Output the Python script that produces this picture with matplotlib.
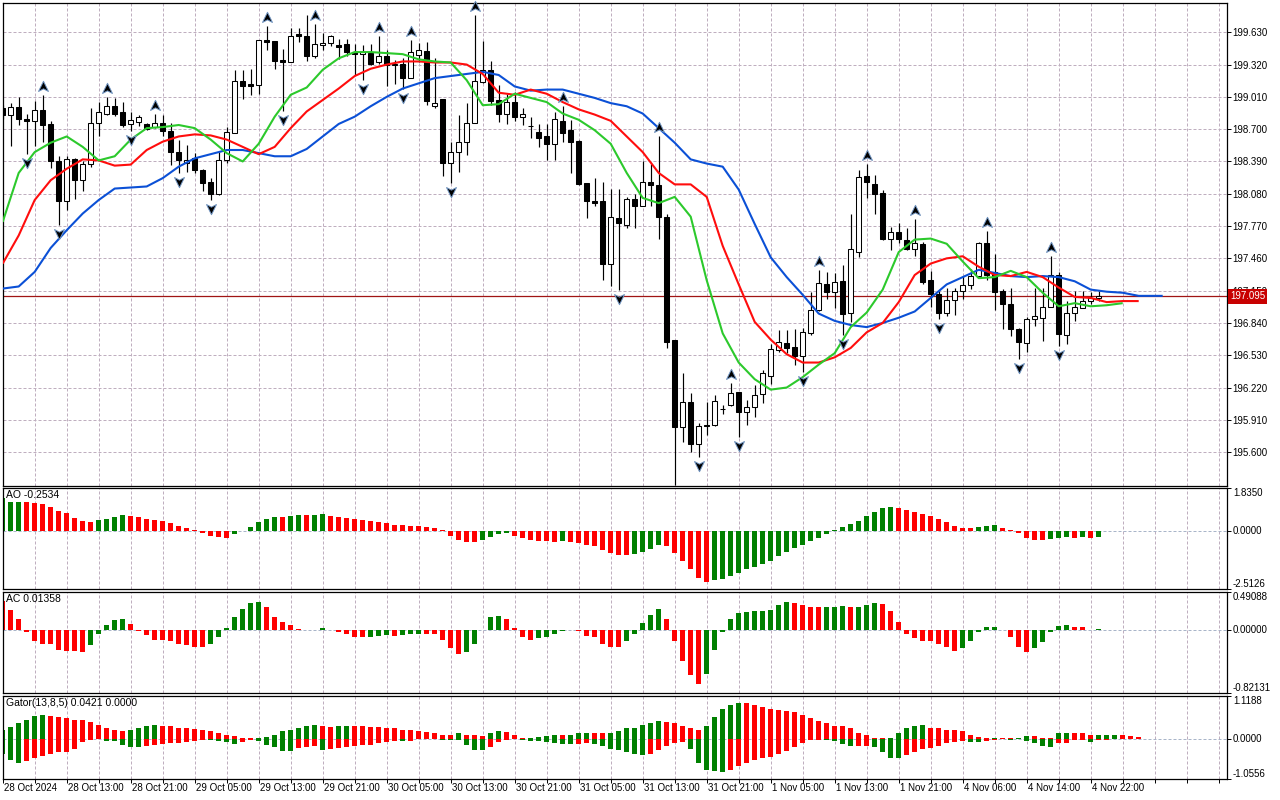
import numpy as np
import matplotlib
matplotlib.use("Agg")
import matplotlib.pyplot as plt
from matplotlib.path import Path
from matplotlib.transforms import offset_copy

plt.rcParams['font.family'] = ['Liberation Sans', 'DejaVu Sans']
plt.rcParams['font.size'] = 7

# ---------------- data ----------------
time_labels = ["28 Oct 2024", "28 Oct 13:00", "28 Oct 21:00", "29 Oct 05:00", "29 Oct 13:00",
               "29 Oct 21:00", "30 Oct 05:00", "30 Oct 13:00", "30 Oct 21:00", "31 Oct 05:00",
               "31 Oct 13:00", "31 Oct 21:00", "1 Nov 05:00", "1 Nov 13:00", "1 Nov 21:00",
               "4 Nov 06:00", "4 Nov 14:00", "4 Nov 22:00"]

opens = [198.90,198.84,198.91,198.80,198.78,198.88,198.75,198.39,198.01,198.41,
         198.21,198.37,198.76,198.85,198.92,198.86,198.75,198.77,198.75,198.72,
         198.76,198.68,198.48,198.38,198.42,198.31,198.19,198.08,198.40,198.66,
         199.16,199.13,199.12,199.56,199.55,199.36,199.34,199.61,199.59,199.40,
         199.51,199.53,199.51,199.52,199.44,199.42,199.43,199.34,199.40,199.32,
         199.33,199.19,199.41,199.45,198.92,198.99,198.38,198.48,198.58,198.76,
         199.15,199.27,198.98,198.85,198.96,198.82,198.73,198.67,198.63,198.56,
         198.78,198.69,198.59,198.18,198.01,198.01,197.41,197.85,197.78,198.03,
         197.96,198.19,198.16,197.86,196.68,195.84,196.08,195.68,195.86,195.86,
         196.01,196.05,196.18,195.99,196.03,196.16,196.33,196.58,196.65,196.61,
         196.52,196.74,196.96,197.21,197.14,197.24,196.94,197.52,198.25,198.17,
         198.09,197.65,197.71,197.64,197.55,197.60,197.25,197.12,196.94,197.06,
         197.15,197.20,197.29,197.61,197.33,197.15,197.02,196.78,196.65,196.88,
         196.89,196.99,197.30,196.72,196.94,196.98,197.05,197.08]
highs = [198.93,198.95,199.01,198.85,198.97,199.03,198.78,198.44,198.44,198.42,
         198.39,198.90,198.96,199.01,199.00,198.96,198.86,198.84,198.76,198.85,
         198.84,198.76,198.60,198.55,198.47,198.32,198.23,198.48,198.72,199.27,
         199.27,199.28,199.56,199.69,199.55,199.47,199.67,199.67,199.80,199.71,
         199.62,199.60,199.57,199.57,199.52,199.51,199.52,199.59,199.46,199.36,
         199.38,199.56,199.53,199.54,199.38,198.99,198.58,198.84,198.95,199.80,
         199.55,199.35,199.12,199.04,199.06,198.90,198.82,198.75,198.75,198.86,
         198.92,198.79,198.60,198.18,198.23,198.19,198.13,198.13,198.05,198.08,
         198.39,198.37,198.63,197.89,196.68,196.36,196.17,195.88,196.08,196.15,
         196.05,196.26,196.18,196.10,196.24,196.39,196.64,196.77,196.77,196.78,
         196.79,197.14,197.35,197.33,197.32,197.40,197.89,198.31,198.37,198.26,
         198.12,197.76,197.80,197.75,197.84,197.62,197.34,197.15,197.18,197.18,
         197.29,197.36,197.62,197.72,197.50,197.17,197.18,196.79,196.90,197.18,
         197.18,197.48,197.33,197.05,197.15,197.15,197.14,197.15]
lows = [198.80,198.54,198.74,198.46,198.54,198.58,198.33,197.78,197.92,198.03,
        198.11,198.34,198.63,198.84,198.83,198.72,198.68,198.73,198.69,198.71,
        198.63,198.36,198.28,198.29,198.28,198.11,198.02,198.07,198.38,198.66,
        198.99,199.03,199.04,199.46,199.28,198.87,199.34,199.54,199.35,199.38,
        199.46,199.50,199.37,199.40,199.22,199.17,199.32,199.33,199.11,199.13,
        199.09,199.19,199.34,198.93,198.90,198.25,198.18,198.29,198.45,198.76,
        199.14,198.93,198.77,198.75,198.78,198.74,198.62,198.53,198.40,198.40,
        198.58,198.28,198.16,197.85,197.96,197.25,197.19,197.16,197.75,197.75,
        197.96,197.96,197.65,196.60,195.28,195.70,195.60,195.55,195.76,195.85,
        195.97,196.04,195.75,195.86,195.94,196.07,196.25,196.56,196.55,196.44,
        196.37,196.72,196.95,197.07,196.98,196.72,196.85,197.47,198.04,197.89,
        197.64,197.54,197.61,197.54,197.48,197.21,196.99,196.88,196.91,196.92,
        197.07,197.17,197.29,197.25,196.96,196.78,196.71,196.49,196.56,196.81,
        196.67,196.99,196.62,196.64,196.86,196.98,197.02,197.05]
closes = [198.84,198.91,198.80,198.78,198.88,198.74,198.39,198.01,198.41,198.21,
          198.37,198.76,198.86,198.92,198.85,198.74,198.79,198.82,198.70,198.76,
          198.68,198.48,198.40,198.40,198.31,198.18,198.08,198.40,198.67,199.16,
          199.11,199.11,199.56,199.54,199.35,199.34,199.59,199.59,199.40,199.52,
          199.53,199.59,199.49,199.44,199.42,199.44,199.33,199.40,199.32,199.33,
          199.19,199.44,199.46,198.97,198.95,198.38,198.48,198.58,198.76,199.16,
          199.27,198.97,198.85,198.96,198.82,198.85,198.73,198.62,198.56,198.80,
          198.66,198.58,198.17,198.01,197.99,197.41,197.86,197.80,198.03,197.96,
          198.19,198.16,197.86,196.66,195.84,196.08,195.68,195.85,195.85,196.09,
          196.01,196.17,195.99,196.03,196.15,196.36,196.59,196.66,196.60,196.52,
          196.75,196.96,197.22,197.14,197.23,196.93,197.55,198.24,198.19,198.08,
          197.65,197.71,197.65,197.55,197.61,197.23,197.12,196.94,197.06,197.15,
          197.20,197.29,197.61,197.30,197.14,197.02,196.78,196.66,196.88,196.91,
          196.99,197.30,196.73,196.94,196.99,197.05,197.08,197.095]

last_price = 197.095
price_ticks = [199.630, 199.320, 199.010, 198.700, 198.390, 198.080, 197.770,
               197.460, 197.150, 196.840, 196.530, 196.220, 195.910, 195.600]
price_range = (195.275, 199.911)

# Alligator lines (sampled every second bar, already shifted)
lips_bars = list(range(0, 141, 2))
lips_vals = [197.81,198.28,198.48,198.57,198.63,198.53,198.40,198.44,198.60,198.71,
             198.72,198.74,198.71,198.60,198.47,198.39,198.56,198.82,199.03,199.10,
             199.27,199.38,199.44,199.44,199.43,199.42,199.37,199.35,199.34,199.17,
             198.93,198.94,199.04,199.00,198.96,198.85,198.79,198.69,198.56,198.28,
             198.04,197.99,198.05,197.86,197.25,196.74,196.46,196.30,196.20,196.22,
             196.32,196.44,196.55,196.80,196.94,197.16,197.52,197.64,197.65,197.60,
             197.43,197.27,197.28,197.34,197.28,197.13,197.00,197.03,197.00,197.01,
             197.03]
teeth_bars = list(range(0, 143, 2))
teeth_vals = [197.41,197.68,198.02,198.21,198.32,198.41,198.40,198.35,198.36,198.50,
              198.58,198.63,198.65,198.64,198.60,198.53,198.46,198.53,198.71,198.87,
              198.98,199.09,199.21,199.28,199.32,199.35,199.35,199.34,199.34,199.32,
              199.23,199.05,199.03,199.08,199.04,198.96,198.89,198.84,198.78,198.63,
              198.48,198.28,198.17,198.17,198.05,197.58,197.21,196.85,196.68,196.54,
              196.46,196.46,196.51,196.60,196.75,196.84,197.04,197.30,197.41,197.46,
              197.48,197.38,197.30,197.29,197.33,197.28,197.18,197.09,197.08,197.04,
              197.05,197.05]
jaw_bars = list(range(0, 145, 2)) + [145]
jaw_vals = [197.17,197.19,197.33,197.56,197.73,197.89,198.02,198.13,198.14,198.15,
            198.23,198.34,198.42,198.46,198.50,198.50,198.47,198.44,198.44,198.51,
            198.63,198.75,198.82,198.92,199.01,199.09,199.14,199.19,199.21,199.23,
            199.25,199.22,199.11,199.07,199.08,199.08,199.04,199.00,198.95,198.92,
            198.85,198.71,198.57,198.41,198.37,198.34,198.12,197.79,197.47,197.28,
            197.11,196.93,196.86,196.82,196.80,196.84,196.89,196.95,197.08,197.21,
            197.28,197.35,197.32,197.29,197.28,197.29,197.28,197.24,197.16,197.14,
            197.13,197.10,197.10,197.10]

frac_up = [5, 13, 19, 33, 39, 47, 51, 59, 70, 82, 91, 102, 108, 114, 123, 131]
frac_dn = [3, 7, 16, 22, 26, 35, 45, 50, 56, 77, 84, 87, 92, 100, 105, 117, 127, 132]

# Awesome Oscillator
ao_vals = [1.39,1.22,1.23,1.22,1.20,1.13,1.03,0.86,0.75,0.56,
           0.43,0.39,0.47,0.52,0.60,0.69,0.65,0.57,0.52,0.47,
           0.40,0.34,0.22,0.13,0.02,-0.11,-0.22,-0.29,-0.30,-0.16,
           -0.03,0.14,0.36,0.52,0.60,0.59,0.64,0.69,0.66,0.68,
           0.70,0.65,0.60,0.56,0.52,0.45,0.40,0.39,0.34,0.26,
           0.25,0.22,0.20,0.16,0.11,0.01,-0.22,-0.39,-0.50,-0.51,
           -0.39,-0.26,-0.16,-0.11,-0.22,-0.30,-0.39,-0.43,-0.44,-0.47,
           -0.46,-0.48,-0.52,-0.60,-0.65,-0.82,-0.95,-1.03,-1.04,-1.02,
           -0.90,-0.77,-0.60,-0.65,-0.95,-1.29,-1.64,-2.02,-2.20,-2.11,
           -2.07,-1.94,-1.81,-1.67,-1.55,-1.42,-1.29,-1.08,-0.90,-0.73,
           -0.60,-0.43,-0.30,-0.13,0.01,0.17,0.30,0.43,0.65,0.82,
           0.99,1.03,0.99,0.90,0.82,0.73,0.65,0.52,0.39,0.22,
           0.13,0.12,0.17,0.22,0.23,0.13,0.04,-0.11,-0.30,-0.39,
           -0.40,-0.36,-0.30,-0.29,-0.30,-0.26,-0.30,-0.2534]
ao_cols = ("ggg" + "r"*9 + "gggg" + "r"*13 + "g"*6 + "r" + "gg" + "r" + "gg" + "r"*19 +
           "gggg" + "r"*6 + "g" + "r"*8 + "gggg" + "r"*6 + "g"*23 + "r"*10 + "ggg" +
           "r"*6 + "ggg" + "r" + "g" + "r" + "g")
ao_range = (-2.5126, 1.8350)
ao_ticks = ["1.8350", "0.0000", "-2.5126"]
ao_title = "AO -0.2534"

# Accelerator Oscillator
ac_vals = [0.38,0.26,0.14,-0.035,-0.14,-0.18,-0.19,-0.26,-0.27,-0.28,
           -0.29,-0.20,-0.05,0.065,0.13,0.14,0.08,-0.01,-0.07,-0.13,
           -0.135,-0.15,-0.18,-0.20,-0.22,-0.22,-0.18,-0.10,0.026,0.17,
           0.27,0.35,0.36,0.29,0.16,0.10,0.065,0.004,-0.004,-0.005,
           0.02,-0.004,-0.03,-0.06,-0.10,-0.10,-0.10,-0.075,-0.07,-0.075,
           -0.07,-0.06,-0.05,-0.052,-0.055,-0.13,-0.24,-0.31,-0.29,-0.18,
           -0.003,0.16,0.18,0.14,0.026,-0.09,-0.13,-0.11,-0.09,-0.06,
           -0.02,-0.004,-0.02,-0.075,-0.10,-0.19,-0.22,-0.222,-0.14,-0.06,
           0.09,0.195,0.27,0.14,-0.15,-0.41,-0.59,-0.70,-0.57,-0.26,
           -0.035,0.14,0.22,0.23,0.25,0.25,0.26,0.325,0.36,0.35,
           0.325,0.30,0.29,0.292,0.30,0.31,0.29,0.292,0.325,0.35,
           0.34,0.25,0.10,-0.05,-0.11,-0.14,-0.15,-0.18,-0.23,-0.27,
           -0.24,-0.15,-0.035,0.04,0.042,-0.004,-0.10,-0.22,-0.29,-0.24,
           -0.16,-0.035,0.05,0.065,0.04,0.038,-0.003,0.01358]
ac_cols = ("r"*11 + "g"*5 + "r"*10 + "g"*7 + "r"*7 + "g" + "r"*5 + "g"*3 + "r" + "g"*3 +
           "r"*5 + "g"*5 + "r"*4 + "g"*5 + "r"*6 + "g"*5 + "r"*5 + "g"*11 + "r"*4 +
           "g"*3 + "r" + "g"*3 + "r"*10 + "g"*5 + "r"*4 + "g"*5 + "r"*3 + "g")
ac_range = (-0.82131, 0.49088)
ac_ticks = ["0.49088", "0.00000", "-0.82131"]
ac_title = "AC 0.01358"

# Gator oscillator
gator_up = [0.22,0.30,0.40,0.50,0.60,0.63,0.60,0.57,0.53,0.50,
            0.49,0.45,0.35,0.27,0.22,0.21,0.24,0.29,0.34,0.35,
            0.34,0.32,0.29,0.27,0.26,0.24,0.21,0.16,0.11,0.06,
            0.03,0.01,0.03,0.05,0.09,0.19,0.24,0.29,0.34,0.35,
            0.32,0.31,0.32,0.345,0.34,0.32,0.315,0.31,0.29,0.27,
            0.24,0.22,0.19,0.185,0.14,0.11,0.105,0.14,0.11,0.09,
            0.06,0.14,0.19,0.18,0.09,0.01,0.03,0.04,0.06,0.09,
            0.085,0.11,0.14,0.16,0.16,0.14,0.16,0.19,0.27,0.29,
            0.37,0.40,0.47,0.45,0.42,0.32,0.27,0.24,0.32,0.58,
            0.78,0.89,0.94,0.94,0.89,0.84,0.79,0.76,0.73,0.71,
            0.63,0.55,0.47,0.40,0.345,0.32,0.27,0.16,0.09,0.03,
            0.01,0.03,0.14,0.27,0.345,0.35,0.29,0.27,0.24,0.22,
            0.19,0.11,0.035,0.01,0.03,0.02,0.01,0.02,0.06,0.06,
            0.03,0.02,0.14,0.16,0.16,0.14,0.09,0.09,0.09,0.11,
            0.09,0.06,0.0421]
gator_up_cols = ("g"*6 + "r"*10 + "g"*4 + "r"*12 + "g"*8 + "r"*2 + "g"*2 + "r"*13 + "g" +
                 "r"*3 + "g"*2 + "r"*3 + "g"*4 + "r" + "g"*3 + "r"*2 + "g"*7 + "r"*5 +
                 "g"*5 + "r"*18 + "g"*5 + "r"*8 + "g" + "r"*2 + "g"*2 + "r"*3 + "g"*2 +
                 "r"*3 + "g"*3 + "r"*3)
gator_dn = [0.40,0.56,0.63,0.58,0.50,0.45,0.40,0.35,0.34,0.27,
            0.09,0.03,0.02,0.06,0.06,0.16,0.22,0.22,0.19,0.16,
            0.14,0.11,0.11,0.09,0.06,0.035,0.035,0.06,0.09,0.14,
            0.09,0.035,0.06,0.16,0.22,0.32,0.32,0.24,0.22,0.19,
            0.29,0.27,0.24,0.22,0.19,0.16,0.16,0.11,0.09,0.06,
            0.06,0.06,0.01,0.01,0.005,0.03,0.03,0.035,0.16,0.29,
            0.29,0.22,0.09,0.03,0.01,0.035,0.06,0.06,0.09,0.11,
            0.14,0.14,0.14,0.11,0.14,0.19,0.27,0.29,0.345,0.40,
            0.42,0.40,0.29,0.19,0.11,0.09,0.27,0.63,0.81,0.84,
            0.86,0.81,0.71,0.63,0.55,0.50,0.47,0.40,0.32,0.22,
            0.11,0.035,0.03,0.035,0.06,0.14,0.19,0.19,0.18,0.22,
            0.345,0.50,0.50,0.42,0.345,0.27,0.24,0.19,0.11,0.09,
            0.06,0.09,0.09,0.06,0.035,0.01,0.035,0.02,0.06,0.11,
            0.19,0.22,0.11,0.11,0.035,0.035,0.09,0.035,0.03,0.01,
            0.0]
gator_dn_cols = ("g"*3 + "r"*10 + "g"*5 + "r"*8 + "g"*4 + "r"*2 + "g"*5 + "r"*3 + "g" +
                 "r"*9 + "g" + "r"*4 + "g"*6 + "r"*4 + "g"*7 + "r"*2 + "g"*7 + "r"*5 +
                 "g"*5 + "r"*12 + "g"*4 + "r"*2 + "g"*4 + "r"*8 + "g"*2 + "r"*3 + "g" +
                 "r" + "g"*4 + "r"*4 + "g" + "r"*4)
gator_range = (-1.0556, 1.1188)
gator_ticks = ["1.1188", "0.0000", "-1.0556"]
gator_title = "Gator(13,8,5) 0.0421 0.0000"

# ---------------- styling ----------------
HIST = {"g": "#008000", "r": "#ff0000"}
GRID = dict(color="#bfaebf", lw=0.72, ls=(0, (3, 2)), zorder=0)
ZERO = dict(color="#a9b5c9", lw=0.72, ls=(0, (3, 2)), zorder=0)

W, H = 1280, 800
fig = plt.figure(figsize=(W / 100, H / 100), dpi=100)
fig.patch.set_facecolor("white")
LEFT, RIGHT = 2.5, 1227.0


def make_ax(top, bottom):
    return fig.add_axes([LEFT / W, 1 - bottom / H, (RIGHT - LEFT) / W, (bottom - top) / H])


ax_main = make_ax(3, 486)
ax_ao = make_ax(488, 589)
ax_ac = make_ax(592, 693)
ax_gt = make_ax(696, 779)
axes = [ax_main, ax_ao, ax_ac, ax_gt]

x_lo = (LEFT - 2.7) / 8.0
x_hi = (RIGHT - 2.7) / 8.0
for ax in axes:
    ax.set_xlim(x_lo, x_hi)
    ax.set_facecolor("white")
    for s in ax.spines.values():
        s.set_linewidth(0.9)
        s.set_color("black")
    ax.tick_params(axis="x", which="both", bottom=False, labelbottom=False)
    ax.yaxis.tick_right()
    ax.tick_params(axis="y", length=3, width=0.7, pad=1, labelsize=7, colors="black")
    for k in range(4, 153, 4):
        ax.axvline(k, **GRID)

# ---- main price panel ----
ax_main.set_ylim(*price_range)
for p in price_ticks:
    ax_main.axhline(p, **GRID)
ax_main.set_yticks(price_ticks)
ax_main.set_yticklabels([f"{p:.3f}" for p in price_ticks])

o = np.array(opens); h = np.array(highs); l = np.array(lows); c = np.array(closes)
idx = np.arange(len(o))
ax_main.axhline(last_price, color="#a01414", lw=0.9, zorder=1)
ax_main.vlines(idx, l, h, color="black", lw=0.85, zorder=2)
bull = c >= o
body = np.maximum(np.abs(c - o), 0.004)
ax_main.bar(idx, body, bottom=np.minimum(o, c), width=0.62,
            color=np.where(bull, "white", "black"), edgecolor="black",
            linewidth=0.75, zorder=3)

ax_main.plot(jaw_bars, jaw_vals, color="#0b50d6", lw=1.5, zorder=4, solid_capstyle="butt")
ax_main.plot(teeth_bars, teeth_vals, color="#ff0d0d", lw=1.5, zorder=4, solid_capstyle="butt")
ax_main.plot(lips_bars, lips_vals, color="#2cc92c", lw=1.5, zorder=4, solid_capstyle="butt")

# fractal arrow heads (MetaTrader style: notched arrowhead)
up_path = Path([(0, 1), (0.95, -0.95), (0, -0.45), (-0.95, -0.95), (0, 1)],
               [Path.MOVETO, Path.LINETO, Path.LINETO, Path.LINETO, Path.CLOSEPOLY])
dn_path = Path([(0, -1), (0.95, 0.95), (0, 0.45), (-0.95, 0.95), (0, -1)],
               [Path.MOVETO, Path.LINETO, Path.LINETO, Path.LINETO, Path.CLOSEPOLY])
tr_up = offset_copy(ax_main.transData, fig=fig, x=0, y=9, units="dots")
tr_dn = offset_copy(ax_main.transData, fig=fig, x=0, y=-9, units="dots")
ax_main.plot(frac_up, [highs[i] for i in frac_up], ls="none", marker=up_path, ms=7.5,
             mfc="black", mec="#6f93c0", mew=0.7, transform=tr_up, zorder=6, clip_on=False)
ax_main.plot(frac_dn, [lows[i] for i in frac_dn], ls="none", marker=dn_path, ms=7.5,
             mfc="black", mec="#6f93c0", mew=0.7, transform=tr_dn, zorder=6, clip_on=False)

ax_main.annotate(f"{last_price:.3f}", xy=(1, last_price), xycoords=("axes fraction", "data"),
                 xytext=(3, 0), textcoords="offset pixels", ha="left", va="center",
                 color="white", fontsize=7,
                 bbox=dict(boxstyle="square,pad=0.22", fc="#c80000", ec="none"),
                 annotation_clip=False, zorder=10)


# ---- sub panels ----
def setup_sub(ax, rng, labels, title):
    ax.set_ylim(*rng)
    ax.axhline(0, **ZERO)
    ax.set_yticks([rng[1], 0, rng[0]])
    ax.set_yticklabels([])
    for val, txt, va in zip([rng[1], 0, rng[0]], labels, ["top", "center", "bottom"]):
        ax.annotate(txt, xy=(1, val), xycoords=("axes fraction", "data"), xytext=(6, 0),
                    textcoords="offset pixels", ha="left", va=va, fontsize=7,
                    annotation_clip=False)
    ax.annotate(title, xy=(0, 1), xycoords="axes fraction", xytext=(4, -2),
                textcoords="offset pixels", ha="left", va="top", fontsize=7.5)


setup_sub(ax_ao, ao_range, ao_ticks, ao_title)
ax_ao.bar(np.arange(len(ao_vals)), ao_vals, width=0.6,
          color=[HIST[k] for k in ao_cols], linewidth=0, zorder=2)

setup_sub(ax_ac, ac_range, ac_ticks, ac_title)
ax_ac.bar(np.arange(len(ac_vals)), ac_vals, width=0.6,
          color=[HIST[k] for k in ac_cols], linewidth=0, zorder=2)

setup_sub(ax_gt, gator_range, gator_ticks, gator_title)
ax_gt.bar(np.arange(len(gator_up)), gator_up, width=0.6,
          color=[HIST[k] for k in gator_up_cols], linewidth=0, zorder=2)
ax_gt.bar(np.arange(len(gator_dn)), -np.array(gator_dn), width=0.6,
          color=[HIST[k] for k in gator_dn_cols], linewidth=0, zorder=2)

# ---- time axis ----
ax_gt.set_xticks(list(range(0, 153, 4)))
ax_gt.tick_params(axis="x", bottom=True, length=3, width=0.7, direction="out", labelbottom=False)
for n, lab in enumerate(time_labels):
    ax_gt.annotate(lab, xy=(n * 8, 0), xycoords=("data", "axes fraction"), xytext=(1, -4),
                   textcoords="offset pixels", ha="left", va="top", fontsize=7,
                   annotation_clip=False)

fig.savefig("out.png", dpi=100)
